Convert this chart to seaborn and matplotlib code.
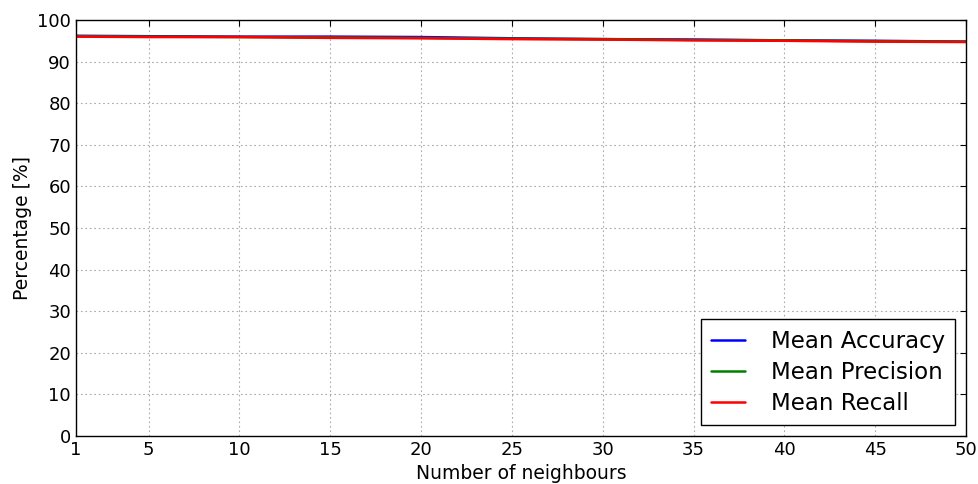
import matplotlib
matplotlib.use("Agg")
import matplotlib.pyplot as plt
import seaborn as sns
import pandas as pd

neighbours = [1, 5, 10, 15, 20, 25, 30, 35, 40, 45, 50]
mean_accuracy = [96.2, 96.1, 96.0, 96.0, 95.9, 95.6, 95.4, 95.3, 95.1, 95.0, 94.8]
mean_precision = [96.1, 96.0, 95.9, 95.8, 95.7, 95.5, 95.4, 95.2, 95.1, 94.9, 94.8]
mean_recall = [96.0, 95.9, 95.9, 95.7, 95.6, 95.4, 95.3, 95.1, 95.0, 94.8, 94.7]

sns.set_style("white")
plt.rcParams['font.family'] = ['DejaVu Sans']
plt.rcParams['text.color'] = 'black'
plt.rcParams['axes.labelcolor'] = 'black'
plt.rcParams['xtick.color'] = 'black'
plt.rcParams['ytick.color'] = 'black'

df = pd.DataFrame({
    "k": neighbours * 3,
    "value": mean_accuracy + mean_precision + mean_recall,
    "series": ["Mean Accuracy"] * len(neighbours) + ["Mean Precision"] * len(neighbours) + ["Mean Recall"] * len(neighbours),
})

fig = plt.figure(figsize=(9.79, 4.84), dpi=100)
ax = fig.add_axes([0.0776, 0.0992, 0.9091, 0.8595])
sns.lineplot(data=df, x="k", y="value", hue="series",
             palette={"Mean Accuracy": "#0000ff", "Mean Precision": "#008000", "Mean Recall": "#ff0000"},
             linewidth=1.8, ax=ax)

ax.set_xlim(1, 50)
ax.set_ylim(0, 100)
ax.set_xticks([1, 5, 10, 15, 20, 25, 30, 35, 40, 45, 50])
ax.set_yticks(range(0, 101, 10))
ax.tick_params(labelsize=13, direction="in", length=4, top=True, right=True, color="black")
ax.grid(True, linestyle=(0, (1.5, 2.5)), color="#aaaaaa", linewidth=0.8)
for s in ax.spines.values():
    s.set_color("black")
    s.set_linewidth(1.0)
ax.set_xlabel("Number of neighbours", fontsize=13.5)
ax.set_ylabel("Percentage [%]", fontsize=13.5)
leg = ax.legend(loc="lower right", fontsize=16.5, frameon=True, fancybox=False,
                edgecolor="black", framealpha=1, borderaxespad=0.48,
                handlelength=1.5, handletextpad=1.1, borderpad=0.45, labelspacing=0.35)
leg.get_frame().set_linewidth(1.0)
fig.savefig("out.png", dpi=100, facecolor="white")
